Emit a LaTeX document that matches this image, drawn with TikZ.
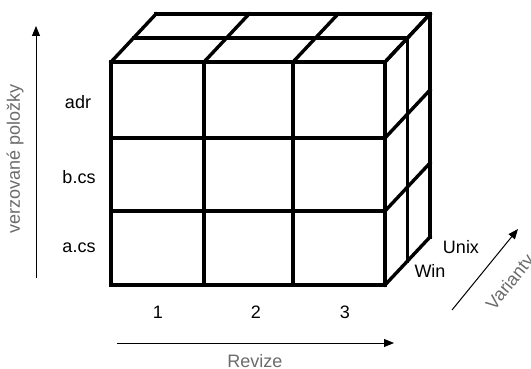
\documentclass[tikz,border=0pt]{standalone}
\usepackage{fontspec}
\setmainfont{Liberation Sans}
\usetikzlibrary{arrows.meta}
\definecolor{lblgray}{gray}{0.42}
\begin{document}
\begin{tikzpicture}[x=1pt,y=-1pt,
  grid/.style={line width=3.4pt,line join=miter,line cap=rect},
  axis/.style={line width=1pt,-{Triangle[length=10pt,width=8pt]}},
  lbl/.style={font=\fontsize{18}{18}\selectfont,inner sep=0pt},
  axlbl/.style={lbl,text=lblgray}]
\useasboundingbox (0,0) rectangle (531,369);
\clip (0,0) rectangle (531,369);
% front face
\foreach \x in {111,204,293,385} \draw[grid] (\x,62) -- (\x,285);
\foreach \y in {62,138,211,285} \draw[grid] (111,\y) -- (385,\y);
% top face
\draw[grid] (133.5,38) -- (407.5,38);
\draw[grid] (156,14) -- (430,14);
\foreach \x in {111,204,293,385} \draw[grid] (\x,62) -- ++(45,-48);
% right face
\draw[grid] (407.5,38) -- (407.5,261);
\draw[grid] (430,14) -- (430,237);
\foreach \y in {62,138,211,285} \draw[grid] (385,\y) -- ++(45,-48);
% row labels
\node[lbl] (adr) at (78,102) {adr};
\node[lbl] (bcs) at (79,177) {b.cs};
\node[lbl] (acs) at (79,248) {a.cs};
% column labels
\node[lbl] (c1) at (158,312) {1};
\node[lbl] (c2) at (256,312) {2};
\node[lbl] (c3) at (345,312) {3};
% variant labels
\node[lbl] (win) at (430,271) {Win};
\node[lbl] (unix) at (461,247) {Unix};
% axes
\coordinate (ya) at (36,278);
\coordinate (yb) at (36,26);
\draw[axis] (ya) -- (yb);
\node[axlbl,rotate=90] (ylbl) at (15,159) {verzované položky};
\coordinate (xa) at (117,343);
\coordinate (xb) at (394,343);
\draw[axis] (xa) -- (xb);
\node[axlbl] (xlbl) at (255,361) {Revize};
\coordinate (za) at (452,310);
\coordinate (zb) at (518,229);
\draw[axis] (za) -- (zb);
\node[axlbl,rotate=51] (zlbl) at (511,283) {Varianty};
\end{tikzpicture}
\end{document}
